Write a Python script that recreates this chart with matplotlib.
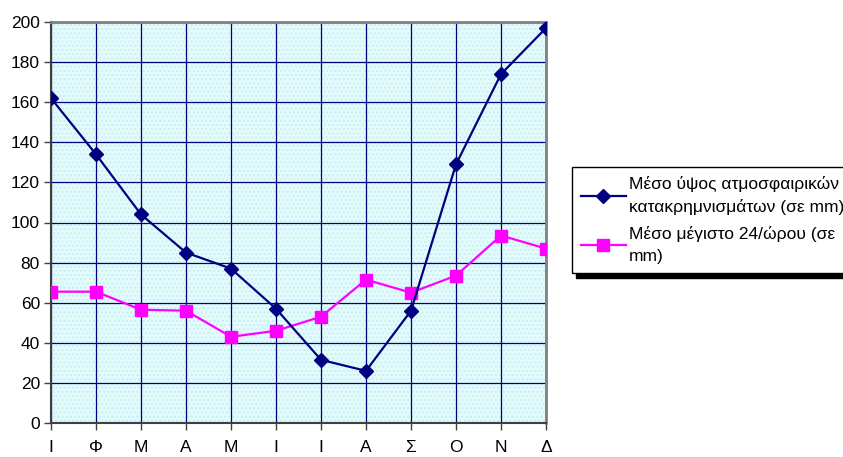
import matplotlib.pyplot as plt
from matplotlib.patches import Rectangle

plt.rcParams['font.family'] = ['Liberation Sans', 'DejaVu Sans']

# δεδομένα
months = ['Ι', 'Φ', 'Μ', 'Α', 'Μ', 'Ι', 'Ι', 'Α', 'Σ', 'Ο', 'Ν', 'Δ']
rain_mean = [162, 134, 104, 85, 77, 57, 31.5, 26, 56, 129, 174, 197]
max_24h = [65.5, 65.5, 56.5, 56, 43, 46, 53, 71.5, 65, 73.5, 93.5, 87]
yticks = list(range(0, 201, 20))

fig = plt.figure(figsize=(8.43, 4.57), dpi=100)
ax = fig.add_axes([51 / 843, 1 - 423 / 457, (546 - 51) / 843, (423 - 22) / 457])

x = list(range(len(months)))

# φόντο
ax.set_facecolor('#e4fbfc')
ax.add_patch(Rectangle((0, 0), 1, 1, transform=ax.transAxes, facecolor='none',
                       edgecolor='#c8eef5', hatch='....', linewidth=0, zorder=0))

ax.plot(x, rain_mean, color='#000080', lw=1.6, marker='D', markersize=7,
        label='Μέσο ύψος ατμοσφαιρικών\nκατακρημνισμάτων (σε mm)', zorder=4)
ax.plot(x, max_24h, color='#ff00ff', lw=1.6, marker='s', markersize=9,
        label='Μέσο μέγιστο 24/ώρου (σε\nmm)', zorder=3)

ax.set_xlim(0, 11)
ax.set_ylim(0, 200)
ax.set_xticks(x)
ax.set_xticklabels(months)
ax.set_yticks(yticks)
ax.grid(True, color='#000080', lw=0.9, zorder=1)
ax.set_axisbelow(True)

ax.tick_params(axis='both', direction='out', length=5, width=1, color='#404040',
               labelsize=12.5, pad=3)
ax.tick_params(axis='x', pad=7)
for s in ['top', 'right']:
    ax.spines[s].set_color('#808080')
    ax.spines[s].set_linewidth(2)
for s in ['left', 'bottom']:
    ax.spines[s].set_color('#404040')
    ax.spines[s].set_linewidth(1.5)

leg = fig.legend(loc='upper left', bbox_to_anchor=(572 / 843, 1 - 167 / 457),
                 fontsize=12.5, frameon=True, fancybox=False, edgecolor='black',
                 framealpha=1, borderpad=0.5, handlelength=2.6, handletextpad=0.2,
                 labelspacing=0.6, borderaxespad=0,
                 shadow={'color': 'black', 'alpha': 1, 'ox': 3, 'oy': -4})
for t in leg.get_texts():
    t.set_linespacing(1.6)

fig.savefig('out.png', dpi=100)
